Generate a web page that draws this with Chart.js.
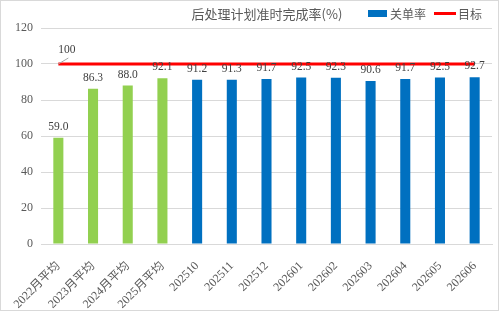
<!DOCTYPE html>
<html>
<head>
<meta charset="utf-8">
<script src="https://cdn.jsdelivr.net/npm/chart.js@4/dist/chart.umd.min.js"></script>
<style>
  body { margin: 0; background: #fff; }
</style>
</head>
<body>
<canvas id="chart" width="500" height="313"></canvas>
<script>
var categories = ['2022月平均', '2023月平均', '2024月平均', '2025月平均', '202510', '202511', '202512',
  '202601', '202602', '202603', '202604', '202605', '202606'];
var closeRate = [59.0, 86.3, 88.0, 92.1, 91.2, 91.3, 91.7, 92.5, 92.3, 90.6, 91.7, 92.5, 92.7];
var target = [100, 100, 100, 100, 100, 100, 100, 100, 100, 100, 100, 100, 100];
var yTicks = [0, 20, 40, 60, 80, 100, 120];

var GREEN = '#92D050';
var BLUE = '#0070C0';
var RED = '#FF0000';
var GREY = '#595959';
var NUM_FONT = '11.5px "Liberation Serif", "DejaVu Serif", serif';
var CJK_FONT = '"Noto Sans CJK SC", "Liberation Serif", sans-serif';

var barColors = categories.map(function (c) {
  return c.indexOf('平均') >= 0 ? GREEN : BLUE;
});

// title, legend, value labels and frame
var decorations = {
  id: 'decorations',
  afterDatasetsDraw: function (chart) {
    var ctx = chart.ctx;
    ctx.save();

    // value labels above bars
    var bars = chart.getDatasetMeta(1).data;
    ctx.fillStyle = '#404040';
    ctx.font = NUM_FONT;
    ctx.textAlign = 'center';
    ctx.textBaseline = 'bottom';
    for (var i = 0; i < bars.length; i++) {
      ctx.fillText(closeRate[i].toFixed(1), bars[i].x, bars[i].y - 5);
    }

    // target label with leader line
    var pts = chart.getDatasetMeta(0).data;
    var p = pts[0];
    ctx.strokeStyle = '#a6a6a6';
    ctx.lineWidth = 1;
    ctx.beginPath();
    ctx.moveTo(p.x, p.y);
    ctx.lineTo(p.x + 10, p.y - 6);
    ctx.stroke();
    ctx.textAlign = 'left';
    ctx.fillText(String(target[0]), p.x, p.y - 8);

    // title
    ctx.fillStyle = GREY;
    ctx.font = '13px ' + CJK_FONT;
    ctx.textAlign = 'center';
    ctx.textBaseline = 'middle';
    ctx.fillText('后处理计划准时完成率(%)', 267, 14);

    // legend
    ctx.font = '12px ' + CJK_FONT;
    ctx.textAlign = 'left';
    ctx.fillStyle = BLUE;
    ctx.fillRect(368, 10, 19, 7);
    ctx.fillStyle = GREY;
    ctx.fillText('关单率', 390, 14);
    ctx.strokeStyle = RED;
    ctx.lineWidth = 3;
    ctx.beginPath();
    ctx.moveTo(434, 13.5);
    ctx.lineTo(456, 13.5);
    ctx.stroke();
    ctx.fillText('目标', 458, 14);

    // frame
    ctx.strokeStyle = '#d9d9d9';
    ctx.lineWidth = 1;
    ctx.strokeRect(0.5, 0.5, 498, 310);
    ctx.restore();
  }
};

new Chart(document.getElementById('chart'), {
  type: 'bar',
  data: {
    labels: categories,
    datasets: [
      {
        type: 'line',
        label: '目标',
        data: target,
        borderColor: RED,
        backgroundColor: RED,
        borderWidth: 3,
        pointRadius: 0,
        order: 0
      },
      {
        type: 'bar',
        label: '关单率',
        data: closeRate,
        backgroundColor: barColors,
        barPercentage: 0.29,
        categoryPercentage: 1,
        order: 1
      }
    ]
  },
  options: {
    responsive: false,
    animation: false,
    devicePixelRatio: 1,
    layout: { padding: { left: 0, right: 8, top: 28, bottom: 0 } },
    plugins: {
      legend: { display: false },
      title: { display: false },
      tooltip: { enabled: false }
    },
    scales: {
      x: {
        offset: true,
        grid: { display: false },
        border: { display: true, color: '#d9d9d9' },
        afterFit: function (scale) { scale.height = 69; },
        ticks: {
          autoSkip: false,
          minRotation: 45,
          maxRotation: 45,
          padding: 7,
          color: GREY,
          font: { family: '"Liberation Serif", "Noto Sans CJK SC", serif', size: 12 }
        }
      },
      y: {
        min: 0,
        max: 120,
        afterFit: function (scale) { scale.width = 41; },
        afterBuildTicks: function (scale) {
          scale.ticks = yTicks.map(function (v) { return { value: v }; });
        },
        grid: { color: '#d9d9d9', drawTicks: false },
        border: { display: false },
        ticks: {
          padding: 8,
          color: GREY,
          font: { family: '"Liberation Serif", serif', size: 12 }
        }
      }
    }
  },
  plugins: [decorations]
});
</script>
</body>
</html>
